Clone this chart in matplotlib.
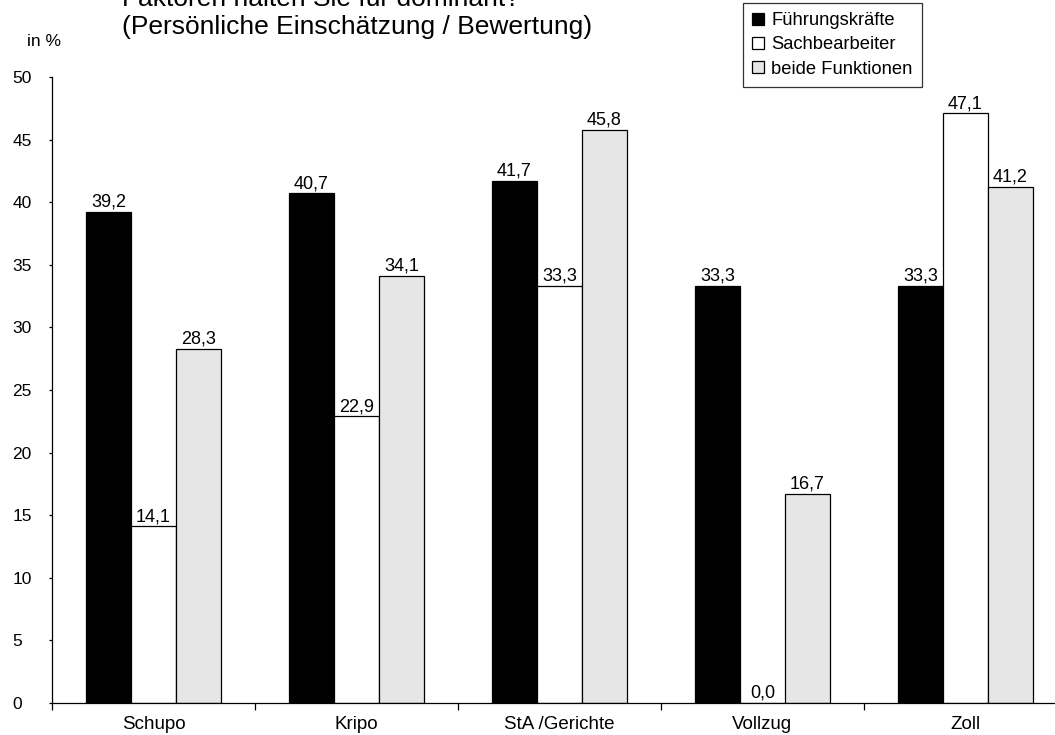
import matplotlib.pyplot as plt
import numpy as np

plt.rcParams['font.family'] = ['Liberation Sans', 'DejaVu Sans']

categories = ["Schupo", "Kripo", "StA /Gerichte", "Vollzug", "Zoll"]
fuehrung = [39.2, 40.7, 41.7, 33.3, 33.3]
sachbearbeiter = [14.1, 22.9, 33.3, 0.0, 47.1]
beide = [28.3, 34.1, 45.8, 16.7, 41.2]
series_names = ["Führungskräfte", "Sachbearbeiter", "beide Funktionen"]
y_ticks = [0, 5, 10, 15, 20, 25, 30, 35, 40, 45, 50]


def fmt(v):
    return ("%.1f" % v).replace(".", ",")


fig = plt.figure(figsize=(10.55, 7.35), dpi=100)
ax = fig.add_axes([0.0493, 0.0435, 0.962, 0.8517])

x = np.arange(len(categories))
width = 0.222
colors = ["black", "white", "#e6e6e6"]
bars = []
for i, (vals, col) in enumerate(zip([fuehrung, sachbearbeiter, beide], colors)):
    b = ax.bar(x + (i - 1) * width, vals, width, color=col,
               edgecolor="black", linewidth=0.9, label=series_names[i])
    bars.append(b)
    for rect, v in zip(b, vals):
        ax.text(rect.get_x() + rect.get_width() / 2, v + 0.1, fmt(v),
                ha="center", va="bottom", fontsize=13)

ax.set_xlim(-0.5, len(categories) - 0.5)
ax.set_ylim(0, 50)
ax.set_yticks(y_ticks)
ax.set_yticklabels([str(t) for t in y_ticks], fontsize=12.5)
ax.tick_params(axis="y", direction="out", length=2.5, width=0.9, pad=26)
for lbl in ax.get_yticklabels():
    lbl.set_horizontalalignment("left")

# category boundaries get the tick marks, names sit in the middle
ax.set_xticks(np.arange(len(categories) + 1) - 0.5)
ax.set_xticklabels([])
ax.tick_params(axis="x", direction="out", length=5, width=0.9)
ax.set_xticks(x, minor=True)
ax.set_xticklabels(categories, minor=True, fontsize=13.5)
ax.tick_params(axis="x", which="minor", length=0, pad=9)

for s in ["top", "right"]:
    ax.spines[s].set_visible(False)
ax.spines["left"].set_linewidth(0.9)
ax.spines["bottom"].set_linewidth(0.9)

fig.text(0.026, 0.944, "in %", fontsize=12.5, ha="left", va="center")
fig.text(0.116, 1.002, "Faktoren halten Sie für dominant?", fontsize=19,
         ha="left", va="center")
fig.text(0.116, 0.963, "(Persönliche Einschätzung / Bewertung)", fontsize=19,
         ha="left", va="center")

leg = fig.legend(handles=bars, labels=series_names, loc="upper left",
                 bbox_to_anchor=(0.704, 0.996), fontsize=13.2, frameon=True,
                 fancybox=False, edgecolor="black", handlelength=0.65,
                 handleheight=0.65, handletextpad=0.4, borderpad=0.5,
                 labelspacing=0.4, borderaxespad=0)
leg.get_frame().set_linewidth(0.9)

fig.savefig("out.png", dpi=100)
